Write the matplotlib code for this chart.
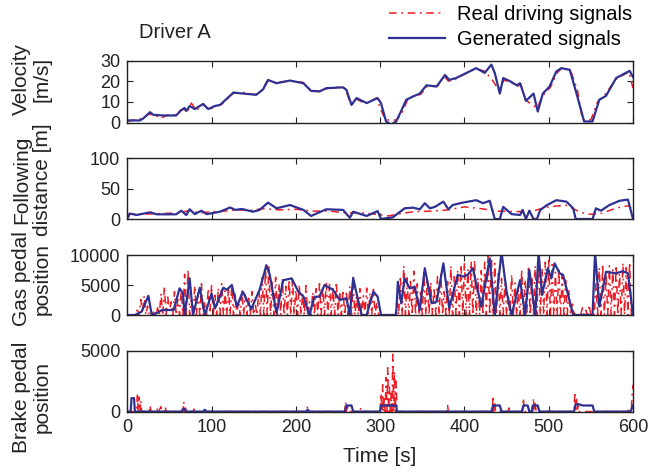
import numpy as np
import matplotlib
matplotlib.use("Agg")
import matplotlib.pyplot as plt
from matplotlib.lines import Line2D

plt.rcParams['font.family'] = ['Liberation Sans', 'DejaVu Sans']

# ---------------- data ----------------
x_ticks = [0, 100, 200, 300, 400, 500, 600]

# Velocity [m/s]
vel_t = [0,8,15,19,27,31,43,58,64,68,70,74,80,90,96,104,110,126,137,153,161,167,177,193,209,218,228,236,256,260,266,272,284,297,301,307,313,319,325,331,339,347,355,367,377,382,390,414,424,432,436,442,446,454,462,466,473,482,487,493,501,509,515,525,533,542,552,560,568,580,596,600]
vel_gen = [1,1,1,2,5,3.7,3.4,3.4,6,7,5.6,8,6.5,9,6.5,8,8.5,14.5,14,13.4,16,20.6,19,20.3,19,15.3,15,16.6,17,15.8,8.5,11.8,9.4,11.8,9.4,0.5,-1,0.5,5.6,11,12.6,14,18,17.4,23,20.6,21.5,26.3,24,28,24,14,21.5,20,18,19,10.5,14,5.3,14,17.4,24.7,26.3,25.5,14,0.5,0.5,11,12.9,21.5,25,22]
vel_real_t = [0,10,18,25,33,39,48,58,63,67,71,76,82,90,97,104,112,126,138,152,160,166,176,192,208,218,228,236,255,259,265,271,283,296,300,306,313,320,326,332,340,348,356,368,376,381,389,413,423,428,434,440,447,455,463,467,472,479,486,493,502,510,516,526,534,540,550,558,566,580,595,600]
vel_real = [0.5,1.5,1.8,4,3.5,2,3.6,3.8,5.8,6.5,5,9.4,5.8,8.8,6,7.8,8.8,14.2,14.5,13.5,15.5,20,19.5,20,19.5,15.5,15.3,16.2,17.4,16,9,11.5,9,12,7,1.5,1,1.3,4.8,10.5,13,13.6,17.5,17.6,22.5,20,21,26,25,23,20,16,20.5,19.5,17.5,18.5,11,9,7,13,17,24,26.5,25,16,1.3,1.3,10,13.2,21,24.5,16.6]

# Following distance [m]
dist_t = [0,3,11,27,35,58,64,70,74,80,88,94,110,122,128,136,149,157,167,177,193,209,218,236,256,264,268,284,297,301,315,329,339,347,353,359,365,375,381,386,398,414,422,430,436,442,446,456,466,469,473,477,482,486,490,498,509,521,529,532,552,556,562,572,584,594,600]
dist_gen = [0,9,6.6,11,7.7,7.7,13.7,6.6,16,8,13.7,8,12,19,15,16.5,12,15,27,17.6,23,15,5,16,15,2,12,5,13,0,2.7,17.6,18.7,16,26,17.6,20,28.6,16,23,27,31,26,30,0,0,20,8,6.6,15,0,13.7,0,0,15,23,31,28.6,17.6,0,0,17.6,13.7,23,30,32,0]
dist_real_t = [0,20,40,60,74,85,100,115,130,145,160,170,180,200,220,240,260,280,300,310,320,340,360,380,400,420,440,460,480,500,520,535,545,560,580,595,600]
dist_real = [8,8,9,10,14,10,12,13,15,14,17,16,15,16,13,13,10,10,7,5,8,12,13,15,20,17,13,12,13,20,23,13,8,8,18,22,15]

# Gas pedal position
gas_t = [0,9,17,25,29,35,41,55,62,66,68,74,78,86,92,100,104,114,118,124,130,137,147,157,165,169,177,185,195,203,209,216,222,228,234,244,252,260,264,268,272,278,284,292,297,301,319,321,325,329,335,341,347,353,361,367,375,382,392,398,404,410,420,430,436,444,450,456,466,472,477,484,488,492,499,503,507,513,517,529,552,555,560,568,580,588,594,600]
gas_gen = [0,0,550,3200,0,300,830,830,4450,3600,0,6100,0,4550,0,3600,1100,4550,4200,5000,1400,3900,1000,4200,8300,6700,300,5800,6100,3900,3050,0,3050,3050,5000,4200,2500,2800,0,6200,3600,0,0,3900,3050,0,0,5550,1950,6100,4450,4700,830,7800,1950,2200,8600,1100,6700,6400,6700,7800,1400,9450,0,10500,3900,0,5800,0,7500,0,10500,3350,7800,6100,8600,6950,6700,0,0,10500,1400,7200,6950,7300,6950,0]
gas_real_t = list(range(0, 601, 2))
gas_real = [
    0,0,0,0,0,0,1200,0,2600,300,3200,0,1500,0,600,0,900,0,1200,0,
    3600,0,4800,0,3000,600,2200,0,3900,0,2600,0,4300,0,6800,0,7600,0,2500,0,
    4900,0,3600,0,5200,0,2200,0,4400,300,5000,0,3300,0,4500,0,5200,0,4000,0,
    4600,0,5100,0,3800,0,2400,0,4200,0,3400,0,2800,0,3900,0,1600,0,4300,0,
    6200,0,7800,0,8200,0,5600,0,6300,0,5200,0,6100,0,4800,0,5900,0,6200,0,
    4200,0,5100,0,3600,0,4900,0,2200,0,3800,0,4400,0,5200,0,4800,0,5600,0,
    5300,0,4600,0,5500,0,3900,0,4200,0,3600,0,4800,0,5400,0,3100,0,4400,0,
    3200,0,4500,0,3700,0,4300,0,2100,0,0,0,0,0,0,0,300,0,0,0,
    2600,0,6500,0,8200,0,6200,0,5600,0,7300,0,5200,0,3800,0,7100,0,6000,0,
    5500,0,4600,0,6400,0,6800,0,3900,0,5600,0,8200,0,6400,0,7500,0,8400,0,
    8800,0,7500,0,8900,0,9200,0,6200,0,7400,0,8800,0,9800,0,10000,0,8600,0,
    7200,0,6100,0,5200,0,3400,0,6800,0,5300,0,4200,0,7600,0,5900,0,7800,0,
    6400,0,8200,0,9600,0,7800,0,8800,0,9100,0,8400,0,7100,0,7900,0,6600,0,
    5800,0,4300,0,2200,0,600,0,300,0,1200,0,800,0,1700,0,400,0,5200,0,
    7900,0,8500,0,6800,0,8200,0,7600,0,8300,0,6900,0,8700,0,7900,0,8800,0,
    0]

# Brake pedal position
brake_t = [0,4,5,8,9,12,64,66,68,70,72,90,92,94,212,214,216,258,260,266,268,300,301,319,320,432,434,442,444,468,470,475,477,480,481,487,489,530,532,536,540,552,554,597,600]
brake_gen = [0,0,1100,1100,0,0,0,200,200,0,0,0,150,0,0,150,0,0,500,500,0,0,500,500,0,0,500,500,0,0,500,500,0,0,500,500,0,0,600,600,500,500,0,0,500]
brake_real_t = [0,11,12,13,14,15,16,17,26,27,28,35,36,37,40,41,44,45,46,66,67,68,69,70,78,79,80,213,214,215,258,259,260,261,262,276,277,278,
                300,301,302,303,304,305,306,307,308,309,310,311,312,313,314,315,316,317,318,319,320,
                379,380,381,433,434,435,436,437,452,453,454,469,470,471,481,482,483,484,485,530,531,532,533,534,535,536,594,595,596,598,599,600]
brake_real = [0,0,1500,0,1200,0,900,0,0,500,0,0,300,0,400,0,0,400,0,0,800,0,500,0,0,200,0,0,500,0,0,800,0,600,0,0,300,0,
              0,1500,0,2200,0,1200,0,2800,0,3600,0,2000,0,1500,0,4700,0,3300,0,2500,0,
              0,500,0,0,1300,0,800,0,0,300,0,0,1100,0,0,1100,0,700,0,0,1600,0,1000,0,600,0,0,300,0,0,1500,2200]

# ---------------- style ----------------
RED = '#ED1C24'
BLUE = '#2E3192'
TXT = '#222222'
red_ls = (0, (5, 3, 1.2, 3))

W, H = 665, 475
fig = plt.figure(figsize=(W/100, H/100), dpi=100)

left = 127.3 / W
width = (633 - 127.3) / W
boxes = [(60.5, 122.5), (158.3, 219), (255, 315), (350.7, 412.3)]
label_y = [79, 180, 279, 397]
axes = []
for top, bot in boxes:
    ax = fig.add_axes([left, 1 - bot / H, width, (bot - top) / H])
    axes.append(ax)

series = [
    (vel_real_t, vel_real, vel_t, vel_gen, (0, 30), [0, 10, 20, 30], ['0', '10', '20', '30'], 'Velocity\n[m/s]'),
    (dist_real_t, dist_real, dist_t, dist_gen, (0, 100), [0, 50, 100], ['0', '50', '100'], 'Following\ndistance [m]'),
    (gas_real_t, gas_real, gas_t, gas_gen, (0, 10000), [0, 5000, 10000], ['0', '5000', '10000'], 'Gas pedal\nposition'),
    (brake_real_t, brake_real, brake_t, brake_gen, (-60, 5000), [0, 5000], ['0', '5000'], 'Brake pedal\nposition'),
]

for i, (ax, (rt, rv, gt, gv, ylim, yt, ytl, ylab)) in enumerate(zip(axes, series)):
    ax.plot(rt, rv, color=RED, lw=1.1, linestyle=red_ls, label='Real driving signals')
    ax.plot(gt, gv, color=BLUE, lw=1.6, label='Generated signals')
    ax.set_xlim(0, 600)
    ax.set_ylim(*ylim)
    ax.set_xticks(x_ticks)
    ax.set_yticks(yt)
    ax.set_yticklabels(ytl)
    ax.tick_params(direction='in', top=True, right=True, length=4, width=0.8,
                   labelsize=13, pad=5, colors=TXT)
    for s in ax.spines.values():
        s.set_linewidth(1.0)
        s.set_color(TXT)
    if i < 3:
        ax.tick_params(labelbottom=False)
    else:
        ax.set_xticklabels([str(v) for v in x_ticks])
        ax.set_xlabel('Time [s]', fontsize=15, labelpad=8, color=TXT)
    fig.text(32 / W, 1 - label_y[i] / H, ylab, rotation=90, ha='center', va='center',
             fontsize=15, linespacing=1.1, multialignment='center', color=TXT)

fig.text(139 / W, 1 - 32 / H, 'Driver A', fontsize=14.5, va='center', ha='left', color=TXT)

handles = [Line2D([], [], color=RED, lw=1.1, linestyle=red_ls),
           Line2D([], [], color=BLUE, lw=1.6)]
fig.legend(handles, ['Real driving signals', 'Generated signals'],
           loc='upper left', bbox_to_anchor=(389 / W, 1 - 5 / H), frameon=False,
           fontsize=14.5, handlelength=2.8, handletextpad=0.6, labelspacing=0.3,
           borderpad=0, borderaxespad=0)

fig.savefig('out.png', dpi=100)
